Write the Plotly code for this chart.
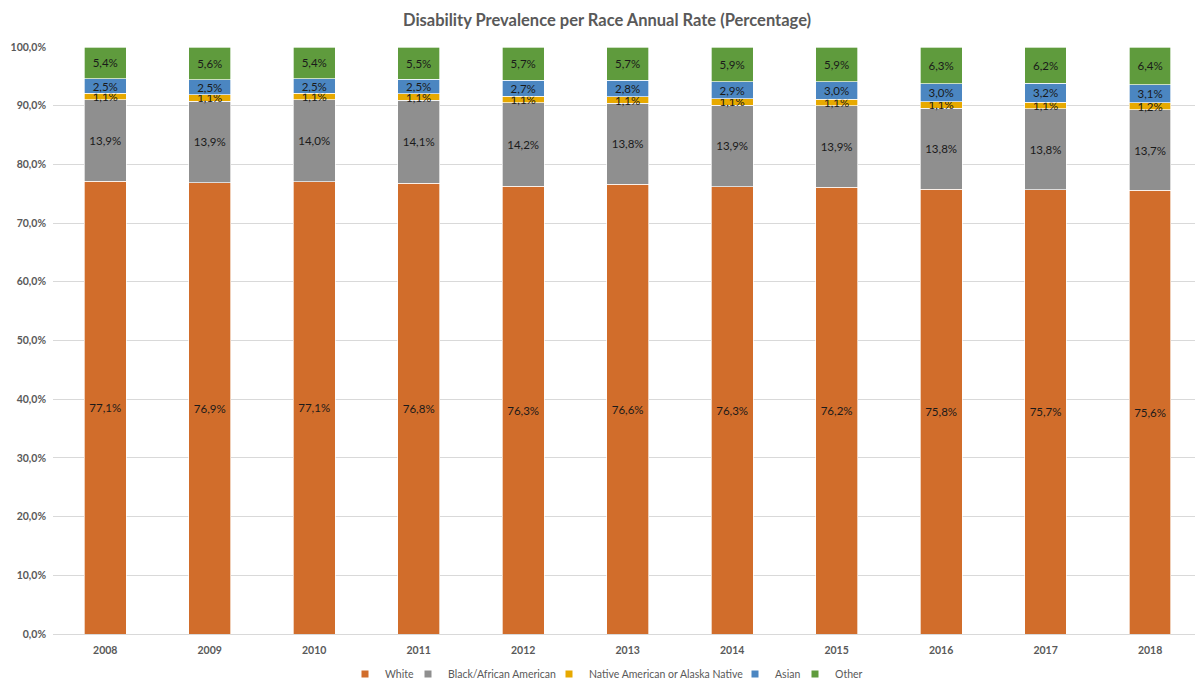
import plotly.graph_objects as go

# Annual share of the population with a disability, by race (percent)
years = ["2008", "2009", "2010", "2011", "2012", "2013", "2014", "2015", "2016", "2017", "2018"]
white = [77.1, 76.9, 77.1, 76.8, 76.3, 76.6, 76.3, 76.2, 75.8, 75.7, 75.6]
black = [13.9, 13.9, 14.0, 14.1, 14.2, 13.8, 13.9, 13.9, 13.8, 13.8, 13.7]
native = [1.1, 1.1, 1.1, 1.1, 1.1, 1.1, 1.1, 1.1, 1.1, 1.1, 1.2]
asian = [2.5, 2.5, 2.5, 2.5, 2.7, 2.8, 2.9, 3.0, 3.0, 3.2, 3.1]
other = [5.4, 5.6, 5.4, 5.5, 5.7, 5.7, 5.9, 5.9, 6.3, 6.2, 6.4]

# name, values, colour, legend entry width
series = [
    ("White", white, "#D16D2B", 18),
    ("Black/African American", black, "#8F8F8F", 96),
    ("Native American or Alaska Native", native, "#E7A900", 141),
    ("Asian", asian, "#4B86C1", 15),
    ("Other", other, "#5F9B3D", 28),
]

FONT = "Lato, 'Open Sans', sans-serif"


def pct_label(v):
    return f"{v:.1f}".replace(".", ",") + "%"


fig = go.Figure()
for name, vals, color, _ in series:
    fig.add_trace(go.Bar(
        name=name,
        x=years,
        y=vals,
        marker=dict(color=color, line=dict(color="rgba(255,255,255,0.85)", width=0.8)),
        text=[pct_label(v) for v in vals],
        textposition="inside",
        insidetextanchor="middle",
        textangle=0,
        constraintext="none",
        textfont=dict(family=FONT, size=11.5, color="#1A1A1A"),
        cliponaxis=False,
        showlegend=False,
    ))

# Legend keys: small square swatches, one per series
for name, _, color, lw in series:
    fig.add_trace(go.Scatter(
        name=name,
        x=[None],
        y=[None],
        mode="markers",
        marker=dict(symbol="square", size=7, color=color),
        legendwidth=lw,
        showlegend=True,
    ))

fig.update_layout(
    barmode="stack",
    barnorm="percent",
    bargap=0.6,
    separators=",.",
    width=1195,
    height=680,
    paper_bgcolor="white",
    plot_bgcolor="white",
    margin=dict(l=53, r=0, t=47, b=46, autoexpand=False),
    uniformtext=dict(minsize=11.5, mode="show"),
    title=dict(
        text="<b>Disability Prevalence per Race Annual Rate (Percentage)</b>",
        font=dict(family=FONT, size=16.5, color="#595959"),
        x=0.508, xref="container", xanchor="center",
        y=0.97, yref="container", yanchor="middle",
    ),
    font=dict(family=FONT, color="#595959"),
    legend=dict(
        orientation="h",
        xref="container", x=345 / 1195, xanchor="left",
        yref="container", y=6 / 680, yanchor="middle",
        font=dict(family=FONT, size=10.5, color="#595959"),
        itemwidth=30,
        itemsizing="trace",
        traceorder="normal",
    ),
    showlegend=True,
)

fig.update_xaxes(
    type="category",
    range=[-0.5, 10.43],
    showgrid=False,
    showline=False,
    ticks="",
    tickfont=dict(family=FONT, size=10.5, color="#595959", weight="bold"),
    ticklabelstandoff=8,
)

fig.update_yaxes(
    range=[0, 100],
    dtick=10,
    tickformat=".1f",
    ticksuffix="%",
    showgrid=True,
    gridcolor="#D9D9D9",
    gridwidth=1,
    zeroline=True,
    zerolinecolor="#D9D9D9",
    zerolinewidth=1,
    showline=False,
    ticks="",
    tickfont=dict(family=FONT, size=10.5, color="#595959", weight="bold"),
    ticklabelstandoff=6,
)

fig.write_html("out.html")
